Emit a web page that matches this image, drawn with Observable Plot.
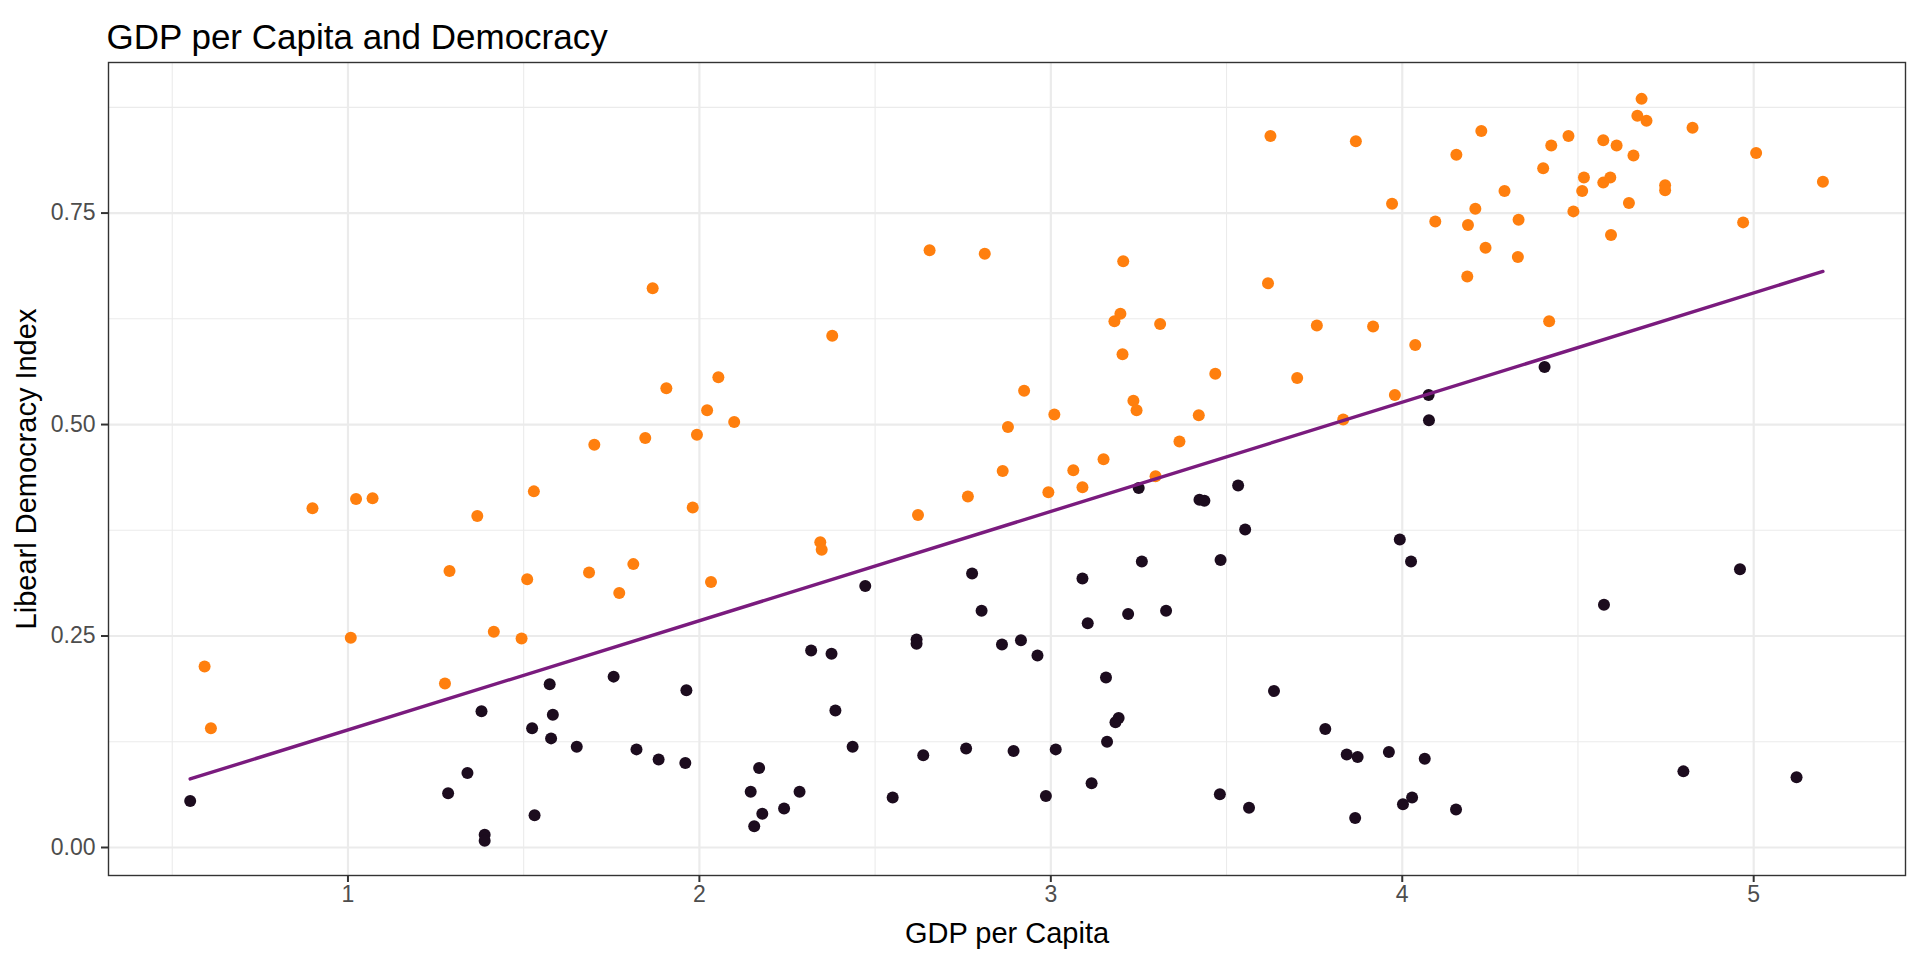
<!DOCTYPE html>
<html>
<head>
<meta charset="utf-8">
<script src="https://cdn.jsdelivr.net/npm/d3@7"></script>
<script src="https://cdn.jsdelivr.net/npm/@observablehq/plot@0.6"></script>
<style>
html, body { margin: 0; padding: 0; background: #ffffff; }
#chart svg { display: block; }
</style>
</head>
<body>
<div id="chart"></div>
<script>
// ---- Data ----
const titleText = "GDP per Capita and Democracy";
const xLabel = "GDP per Capita";
const yLabel = "Libearl Democracy Index";

// orange group
const highX = [0.592,0.610,0.899,1.008,1.023,1.070,1.276,1.289,1.368,1.415,
  1.494,1.510,1.529,1.686,1.701,1.772,1.812,1.846,1.867,1.906,
  1.981,1.993,2.022,2.033,2.054,2.099,2.378,2.344,2.348,2.622,
  2.655,2.764,2.812,2.863,2.878,2.924,2.993,3.010,3.064,3.090,
  3.150,3.181,3.198,3.206,3.204,3.235,3.244,3.298,3.311,3.366,
  3.421,3.468,3.618,3.625,3.701,3.757,3.832,3.868,3.917,3.979,
  3.971,4.037,4.094,4.154,4.185,4.187,4.208,4.225,4.237,4.291,
  4.329,4.331,4.401,4.424,4.418,4.473,4.487,4.512,4.517,4.572,
  4.572,4.592,4.594,4.610,4.645,4.658,4.669,4.681,4.695,4.748,
  4.748,4.826,4.970,5.007,5.197];
const highY = [0.214,0.141,0.401,0.248,0.412,0.413,0.194,0.327,0.392,0.255,
  0.247,0.317,0.421,0.325,0.476,0.301,0.335,0.484,0.661,0.543,
  0.402,0.488,0.517,0.314,0.556,0.503,0.605,0.361,0.352,0.393,
  0.706,0.415,0.702,0.445,0.497,0.540,0.420,0.512,0.446,0.426,
  0.459,0.622,0.631,0.693,0.583,0.528,0.517,0.439,0.619,0.480,
  0.511,0.560,0.667,0.841,0.555,0.617,0.506,0.835,0.616,0.535,
  0.761,0.594,0.740,0.819,0.675,0.736,0.755,0.847,0.709,0.776,
  0.698,0.742,0.803,0.830,0.622,0.841,0.752,0.776,0.792,0.836,
  0.786,0.792,0.724,0.830,0.762,0.818,0.865,0.885,0.859,0.783,
  0.777,0.851,0.739,0.821,0.787];

// dark group
const lowX = [0.551,1.285,1.340,1.380,1.389,1.389,1.524,1.531,1.574,1.578,
  1.583,1.651,1.756,1.821,1.884,1.960,1.963,2.146,2.156,2.170,
  2.179,2.241,2.285,2.318,2.376,2.387,2.436,2.472,2.550,2.618,
  2.618,2.637,2.759,2.776,2.803,2.861,2.894,2.915,2.962,2.986,
  3.014,3.090,3.105,3.116,3.157,3.160,3.184,3.193,3.220,3.250,
  3.259,3.328,3.423,3.437,3.481,3.483,3.533,3.553,3.564,3.635,
  3.781,3.842,3.873,3.866,3.962,3.993,4.002,4.025,4.028,4.064,
  4.075,4.076,4.153,4.405,4.574,4.800,4.961,5.122];
const lowY = [0.055,0.064,0.088,0.161,0.015,0.008,0.141,0.038,0.193,0.129,
  0.157,0.119,0.202,0.116,0.104,0.100,0.186,0.066,0.025,0.094,
  0.040,0.046,0.066,0.233,0.229,0.162,0.119,0.309,0.059,0.246,
  0.241,0.109,0.117,0.324,0.280,0.240,0.114,0.245,0.227,0.061,
  0.116,0.318,0.265,0.076,0.201,0.125,0.148,0.153,0.276,0.425,
  0.338,0.280,0.411,0.410,0.063,0.340,0.428,0.376,0.047,0.185,
  0.140,0.110,0.107,0.035,0.113,0.364,0.051,0.338,0.059,0.105,
  0.535,0.505,0.045,0.568,0.287,0.090,0.329,0.083];

// fitted line (linear fit as drawn in the reference)
const fitX = [0.551, 5.197];
const fitY = [0.081, 0.681];

const xTicks = [1, 2, 3, 4, 5];
const xMinor = [0.5, 1.5, 2.5, 3.5, 4.5];
const yTicks = [0, 0.25, 0.5, 0.75];
const yMinor = [0.125, 0.375, 0.625, 0.875];

// ---- Build tables ----
const high = highX.map((x, i) => ({x, y: highY[i]}));
const low = lowX.map((x, i) => ({x, y: lowY[i]}));
const fit = fitX.map((x, i) => ({x, y: fitY[i]}));

const font = "'Liberation Sans', Arial, Helvetica, sans-serif";
const gridColor = "#EBEBEB";

const chart = Plot.plot({
  width: 1920,
  height: 960,
  marginTop: 62,
  marginLeft: 108,
  marginRight: 15,
  marginBottom: 85,
  style: {fontFamily: font, background: "#ffffff", overflow: "visible"},
  x: {domain: [0.3186, 5.432]},
  y: {domain: [-0.0331, 0.928]},
  marks: [
    Plot.ruleX(xMinor, {stroke: gridColor, strokeWidth: 1.1}),
    Plot.ruleY(yMinor, {stroke: gridColor, strokeWidth: 1.1}),
    Plot.ruleX(xTicks, {stroke: gridColor, strokeWidth: 2.2}),
    Plot.ruleY(yTicks, {stroke: gridColor, strokeWidth: 2.2}),
    Plot.dot(low, {x: "x", y: "y", r: 6, fill: "#1C0C1E", stroke: "none"}),
    Plot.dot(high, {x: "x", y: "y", r: 6, fill: "#FF7F0E", stroke: "none"}),
    Plot.line(fit, {x: "x", y: "y", stroke: "#7A1B7E", strokeWidth: 3.4}),
    Plot.frame({stroke: "#333333", strokeWidth: 1.4}),
    Plot.axisX(xTicks, {tickSize: 7, tickPadding: 3, fontSize: 23, stroke: "#333333", strokeWidth: 2, fill: "#4D4D4D", label: null, tickFormat: d3.format("d")}),
    Plot.axisY(yTicks, {tickSize: 7, tickPadding: 6, fontSize: 23, stroke: "#333333", strokeWidth: 2, fill: "#4D4D4D", label: null, tickFormat: d3.format(".2f")}),
    Plot.text([titleText], {text: d => d, frameAnchor: "top-left", dx: -2, dy: -14, textAnchor: "start", lineAnchor: "bottom", fontSize: 35, fill: "#000000"}),
    Plot.text([xLabel], {text: d => d, frameAnchor: "bottom", dy: 58, textAnchor: "middle", lineAnchor: "middle", fontSize: 29, fill: "#000000"}),
    Plot.text([yLabel], {text: d => d, frameAnchor: "left", dx: -82, rotate: -90, textAnchor: "middle", lineAnchor: "middle", fontSize: 29, fill: "#000000"})
  ]
});
document.getElementById("chart").appendChild(chart);
</script>
</body>
</html>
